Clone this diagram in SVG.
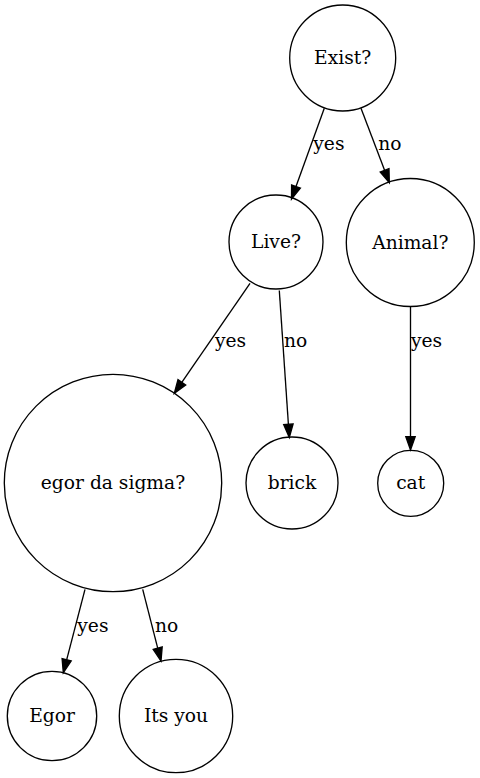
<svg xmlns="http://www.w3.org/2000/svg" width="480" height="778" viewBox="0 0 480 778">
<style>
.node circle{fill:none;stroke:#000;stroke-width:1.33}
.node text,.lbl{font-family:"DejaVu Serif",serif;font-size:18.67px;fill:#000}
.node text{text-anchor:middle}
.edge line{stroke:#000;stroke-width:1.33}
.edge polygon{fill:#000;stroke:#000;stroke-width:1.33}
</style>
<rect width="480" height="778" fill="#fff"/>
<g id="edges" class="edge">
<line x1="324.3" y1="108.3" x2="296.0" y2="186.5"/>
<polygon points="300.4,188.1 291.6,184.9 291.5,199"/>
<text class="lbl" x="313.3" y="150">yes</text>
<line x1="361" y1="108.3" x2="384.6" y2="170.3"/>
<polygon points="389.0,168.6 380.2,172.0 389.3,182.7"/>
<text class="lbl" x="378.3" y="150">no</text>
<line x1="250" y1="283.3" x2="181.8" y2="382.3"/>
<polygon points="185.7,385.0 178.0,379.7 174.3,393.3"/>
<text class="lbl" x="215" y="346.7">yes</text>
<line x1="279.3" y1="290.5" x2="288.4" y2="424.2"/>
<polygon points="293.1,423.9 283.7,424.5 289.3,437.5"/>
<text class="lbl" x="284" y="346.7">no</text>
<line x1="410.5" y1="306.7" x2="410.5" y2="436.7"/>
<polygon points="415.2,436.7 405.8,436.7 410.5,450"/>
<text class="lbl" x="411" y="346.7">yes</text>
<line x1="85" y1="589.3" x2="66.65" y2="659.8"/>
<polygon points="71.2,661.0 62.1,658.6 63.3,672.7"/>
<text class="lbl" x="77.3" y="631.7">yes</text>
<line x1="142.7" y1="589.3" x2="157.7" y2="648.1"/>
<polygon points="162.2,647.0 153.2,649.3 161,661"/>
<text class="lbl" x="155" y="631.7">no</text>
</g>
<g id="exist" class="node"><circle cx="342.7" cy="58" r="53"/><text x="342.7" y="64">Exist?</text></g>
<g id="live" class="node"><circle cx="276" cy="242" r="47"/><text x="276" y="248">Live?</text></g>
<g id="animal" class="node"><circle cx="410.3" cy="242.5" r="64"/><text x="410.3" y="248.5">Animal?</text></g>
<g id="egorq" class="node"><circle cx="113" cy="483" r="108.7"/><text x="113" y="489">egor da sigma?</text></g>
<g id="brick" class="node"><circle cx="292" cy="483" r="46"/><text x="292" y="489">brick</text></g>
<g id="cat" class="node"><circle cx="410.7" cy="483.3" r="33"/><text x="410.7" y="489.3">cat</text></g>
<g id="egor" class="node"><circle cx="52" cy="716" r="44.7"/><text x="52" y="722">Egor</text></g>
<g id="itsyou" class="node"><circle cx="176" cy="716" r="56.7"/><text x="176" y="722">Its you</text></g>
</svg>
